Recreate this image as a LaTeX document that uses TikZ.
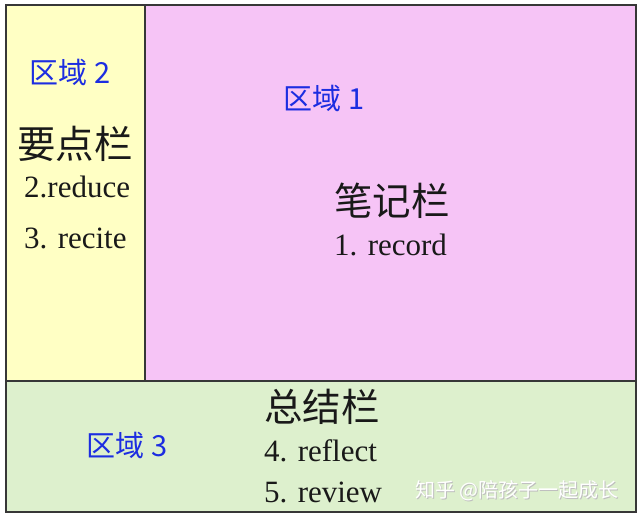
\documentclass[tikz,border=0pt]{standalone}
\usepackage{fontspec}
\setmainfont{Liberation Serif}
\newfontfamily\cjk{Noto Sans CJK SC}
\definecolor{zoneyellow}{RGB}{255,255,196}
\definecolor{zonepink}{RGB}{246,196,246}
\definecolor{zonegreen}{RGB}{221,240,205}
\definecolor{zoneblue}{RGB}{28,45,225}
\definecolor{frame}{RGB}{55,55,55}
\tikzset{
  zone/.style={draw=frame, line width=1.8pt},
  zonelabel/.style={font=\cjk\fontsize{29}{32}\selectfont, text=zoneblue, inner sep=0pt},
  heading/.style={font=\cjk\fontsize{38.5}{42}\selectfont, text=black!90, inner sep=0pt},
  item/.style={font=\fontsize{31}{34}\selectfont, text=black!90, inner sep=0pt, anchor=west},
  wmark/.style={font=\cjk\fontsize{20}{22}\selectfont, inner sep=0pt, anchor=west}
}
\begin{document}
\begin{tikzpicture}[x=1pt,y=-1pt]
\useasboundingbox (0,0) rectangle (640,517);
\fill[white] (0,0) rectangle (640,517);
\fill[zoneyellow] (6,5) rectangle (145,381);
\fill[zonepink] (145,5) rectangle (636,381);
\fill[zonegreen] (6,381) rectangle (636,512);
\draw[zone] (6,5) rectangle (636,512);
\draw[zone] (145,5) -- (145,381);
\draw[zone] (6,381) -- (636,381);

\node[zonelabel] (z2) at (70,72) {区域 2};
\node[heading] (h2) at (75,144) {要点栏};
\node[item] (r2) at (24,187) {2.reduce};
\node[item] (r3) at (24,238) {3. recite};

\node[zonelabel] (z1) at (324,98) {区域 1};
\node[heading] (h1) at (392,201) {笔记栏};
\node[item] (r1) at (334,245) {1. record};

\node[heading] (h3) at (322,407) {总结栏};
\node[zonelabel] (z3) at (127,445) {区域 3};
\node[item] (r4) at (264,451) {4. reflect};
\node[item] (r5) at (264,492) {5. review};

\node[wmark, text=black!25] (wms) at (415.8,491.8) {知乎 @陪孩子一起成长};
\node[wmark, text=white] (wm) at (415,491) {知乎 @陪孩子一起成长};
\end{tikzpicture}
\end{document}
